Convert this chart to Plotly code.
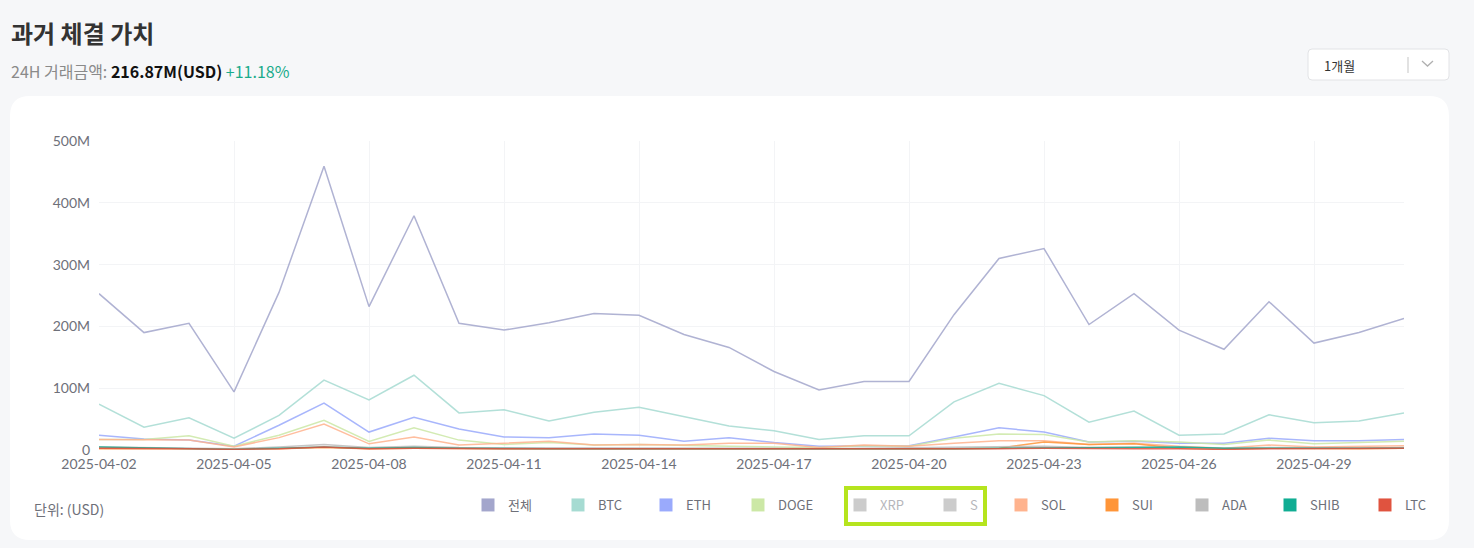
import pandas as pd
import plotly.graph_objects as go

# daily values, in millions of USD (2025-04-02 .. 2025-05-01)
dates = pd.date_range("2025-04-02", "2025-05-01", freq="D")

total = [253, 190, 205, 94, 255, 459, 232, 379, 205, 194, 206, 221, 218, 187, 166,
         127, 97, 111, 111, 219, 310, 326, 203, 253, 194, 163, 240, 173, 190, 213]
btc = [74, 37, 52, 19, 56, 113, 81, 121, 60, 65, 47, 61, 69, 54, 39,
       31, 17, 23, 23, 78, 108, 88, 45, 63, 24, 26, 57, 44, 47, 60]
eth = [24, 18, 16, 6, 40, 76, 29, 53, 34, 21, 20, 26, 24, 14, 20,
       12, 6, 6, 7, 21, 36, 29, 13, 14, 11, 11, 19, 15, 15, 17]
doge = [17, 17, 23, 6, 24, 48, 14, 36, 16, 9, 12, 8, 9, 7, 6,
        5, 4, 7, 6, 19, 26, 25, 13, 15, 13, 9, 16, 10, 12, 14]
xrp = [14, 12, 13, 5, 15, 30, 12, 24, 12, 10, 10, 11, 11, 9, 8,
       7, 5, 6, 6, 12, 18, 17, 10, 12, 9, 7, 11, 8, 9, 10]
s_coin = [2, 2, 2, 1, 2, 4, 2, 3, 2, 2, 2, 2, 2, 2, 2,
          1, 1, 1, 1, 2, 3, 3, 2, 2, 2, 1, 2, 2, 2, 2]
sol = [17, 17, 16, 5, 20, 42, 10, 21, 8, 11, 14, 8, 9, 8, 11,
       11, 4, 8, 6, 11, 15, 15, 9, 11, 6, 3, 8, 5, 6, 7]
sui = [2, 2, 2, 1, 2, 4, 2, 3, 2, 2, 2, 2, 2, 2, 2,
       1, 1, 2, 2, 2, 3, 13, 9, 10, 3, 2, 3, 2, 2, 3]
ada = [5, 4, 4, 2, 5, 9, 4, 6, 4, 4, 4, 4, 4, 3, 3,
       3, 2, 3, 3, 4, 5, 6, 4, 5, 4, 3, 4, 3, 3, 4]
shib = [5, 4, 3, 1, 3, 5, 3, 4, 3, 2, 2, 2, 2, 2, 2,
        2, 1, 2, 2, 2, 3, 3, 3, 4, 5, 3, 3, 3, 3, 3]
ltc = [3, 3, 2, 1, 2, 5, 2, 3, 2, 2, 2, 2, 2, 2, 2,
       1, 1, 1, 1, 2, 2, 3, 2, 2, 2, 1, 2, 2, 2, 3]

names = ["전체", "BTC", "ETH", "DOGE", "XRP", "S", "SOL", "SUI", "ADA", "SHIB", "LTC"]
series = [total, btc, eth, doge, xrp, s_coin, sol, sui, ada, shib, ltc]
colors = ["#a3a6cc", "#a6dbd2", "#9aaafc", "#cce8a6", "#9b9b9b", "#9b9b9b",
          "#ffb38e", "#ff9538", "#bdbdbd", "#10ad93", "#e0533f"]
hidden = ["XRP", "S"]

# legend marker left edges (px) in the reference
legend_px = [484, 574, 662, 754, 856, 946, 1017, 1108, 1198, 1286, 1381]

W, H = 1474, 548
ML, MR, MT, MB = 99, 70, 141, 98
PW, PH = W - ML - MR, H - MT - MB


def xp(px):
    return (px - ML) / PW


def yp(py):
    return (H - MB - py) / PH


def rounded(x0, y0, x1, y1, r):
    # rounded rectangle path, given in page pixels
    return ("M {a},{b} L {c},{b} Q {x1},{b} {x1},{d} L {x1},{e} Q {x1},{y1} {c},{y1} "
            "L {a},{y1} Q {x0},{y1} {x0},{e} L {x0},{d} Q {x0},{b} {a},{b} Z").format(
        a=xp(x0 + r), b=yp(y0), c=xp(x1 - r), d=yp(y0 + r), e=yp(y1 - r),
        x0=xp(x0), x1=xp(x1), y1=yp(y1))


fig = go.Figure()

for i, (nm, vals, col) in enumerate(zip(names, series, colors)):
    vis = "legendonly" if nm in hidden else True
    lk = "legend" if i == 0 else "legend%d" % (i + 1)
    fig.add_trace(go.Scatter(
        x=dates, y=[v * 1e6 for v in vals], mode="lines", name=nm,
        line=dict(color=col, width=1.5), opacity=0.85,
        legendgroup=nm, showlegend=False, visible=vis,
        hovertemplate="%{y:.3s}<extra>" + nm + "</extra>"))
    fig.add_trace(go.Scatter(
        x=[None], y=[None], mode="markers", name=nm,
        marker=dict(symbol="square", size=13, color=col),
        legendgroup=nm, legend=lk, visible=vis))

legends = {}
for i, px in enumerate(legend_px):
    lk = "legend" if i == 0 else "legend%d" % (i + 1)
    legends[lk] = dict(
        x=xp(px - 16), xanchor="left", y=yp(505), yanchor="middle",
        orientation="h", bgcolor="rgba(0,0,0,0)", borderwidth=0,
        font=dict(family="Noto Sans CJK KR", size=13, color="#6e7079"),
        itemwidth=30)

shapes = [
    dict(type="path", xref="paper", yref="paper", path=rounded(10, 96, 1449, 540, 20),
         fillcolor="white", line=dict(width=0), layer="below"),
    dict(type="path", xref="paper", yref="paper", path=rounded(1308, 49, 1449, 80, 4),
         fillcolor="white", line=dict(color="#e2e3e6", width=1)),
    dict(type="line", xref="paper", yref="paper",
         x0=xp(1408), x1=xp(1408), y0=yp(57), y1=yp(73),
         line=dict(color="#d9d9d9", width=1.5)),
    dict(type="path", xref="paper", yref="paper",
         path="M {},{} L {},{} L {},{}".format(xp(1422), yp(61), xp(1427.5), yp(66),
                                            xp(1433), yp(61)),
         line=dict(color="#b0b0b0", width=1.3)),
    # highlight box around the switched-off legend items
    dict(type="rect", xref="paper", yref="paper",
         x0=xp(846), x1=xp(985), y0=yp(488), y1=yp(524),
         line=dict(color="#b5e41e", width=4)),
]

annotations = [
    dict(text="<b>과거 체결 가치</b>", x=xp(9), y=yp(33), xref="paper", yref="paper",
         xanchor="left", yanchor="middle", showarrow=False,
         font=dict(family="Noto Sans CJK KR", size=24, color="#333333")),
    dict(text="<span style='color:#8a8a8a'>24H 거래금액: </span>"
              "<b>216.87M(USD)</b> <span style='color:#1aab8b'>+11.18%</span>",
         x=xp(9), y=yp(71), xref="paper", yref="paper",
         xanchor="left", yanchor="middle", showarrow=False,
         font=dict(family="Noto Sans CJK KR", size=16, color="#111111")),
    dict(text="1개월", x=xp(1322), y=yp(65), xref="paper", yref="paper",
         xanchor="left", yanchor="middle", showarrow=False,
         font=dict(family="Noto Sans CJK KR", size=13, color="#333333")),
    dict(text="단위: (USD)", x=xp(32), y=yp(509), xref="paper", yref="paper",
         xanchor="left", yanchor="middle", showarrow=False,
         font=dict(family="Noto Sans CJK KR", size=14, color="#6e7079")),
]

fig.update_layout(
    width=W, height=H,
    margin=dict(l=ML, r=MR, t=MT, b=MB),
    paper_bgcolor="#f6f7f9", plot_bgcolor="white",
    shapes=shapes, annotations=annotations,
    hovermode="x unified",
    **legends,
)
fig.update_xaxes(
    type="date", range=[dates[0], dates[-1]],
    tick0=dates[0], dtick=3 * 86400000, tickformat="%Y-%m-%d",
    showgrid=True, gridcolor="#f3f4f6", showline=False, zeroline=False,
    ticks="", ticklabelstandoff=4,
    tickfont=dict(family="Lato", size=14, color="#6e7079"))
fig.update_yaxes(
    range=[0, 500e6], dtick=100e6, tickformat="~s",
    showgrid=True, gridcolor="#f3f4f6", showline=False, zeroline=False,
    ticks="", ticklabelstandoff=8,
    tickfont=dict(family="Lato", size=14, color="#6e7079"))

# page has a default 8px body margin; drop it so the figure sits at 0,0
fig.write_html("out.html", config={"displayModeBar": False},
               post_script="document.body.style.margin='0';")
